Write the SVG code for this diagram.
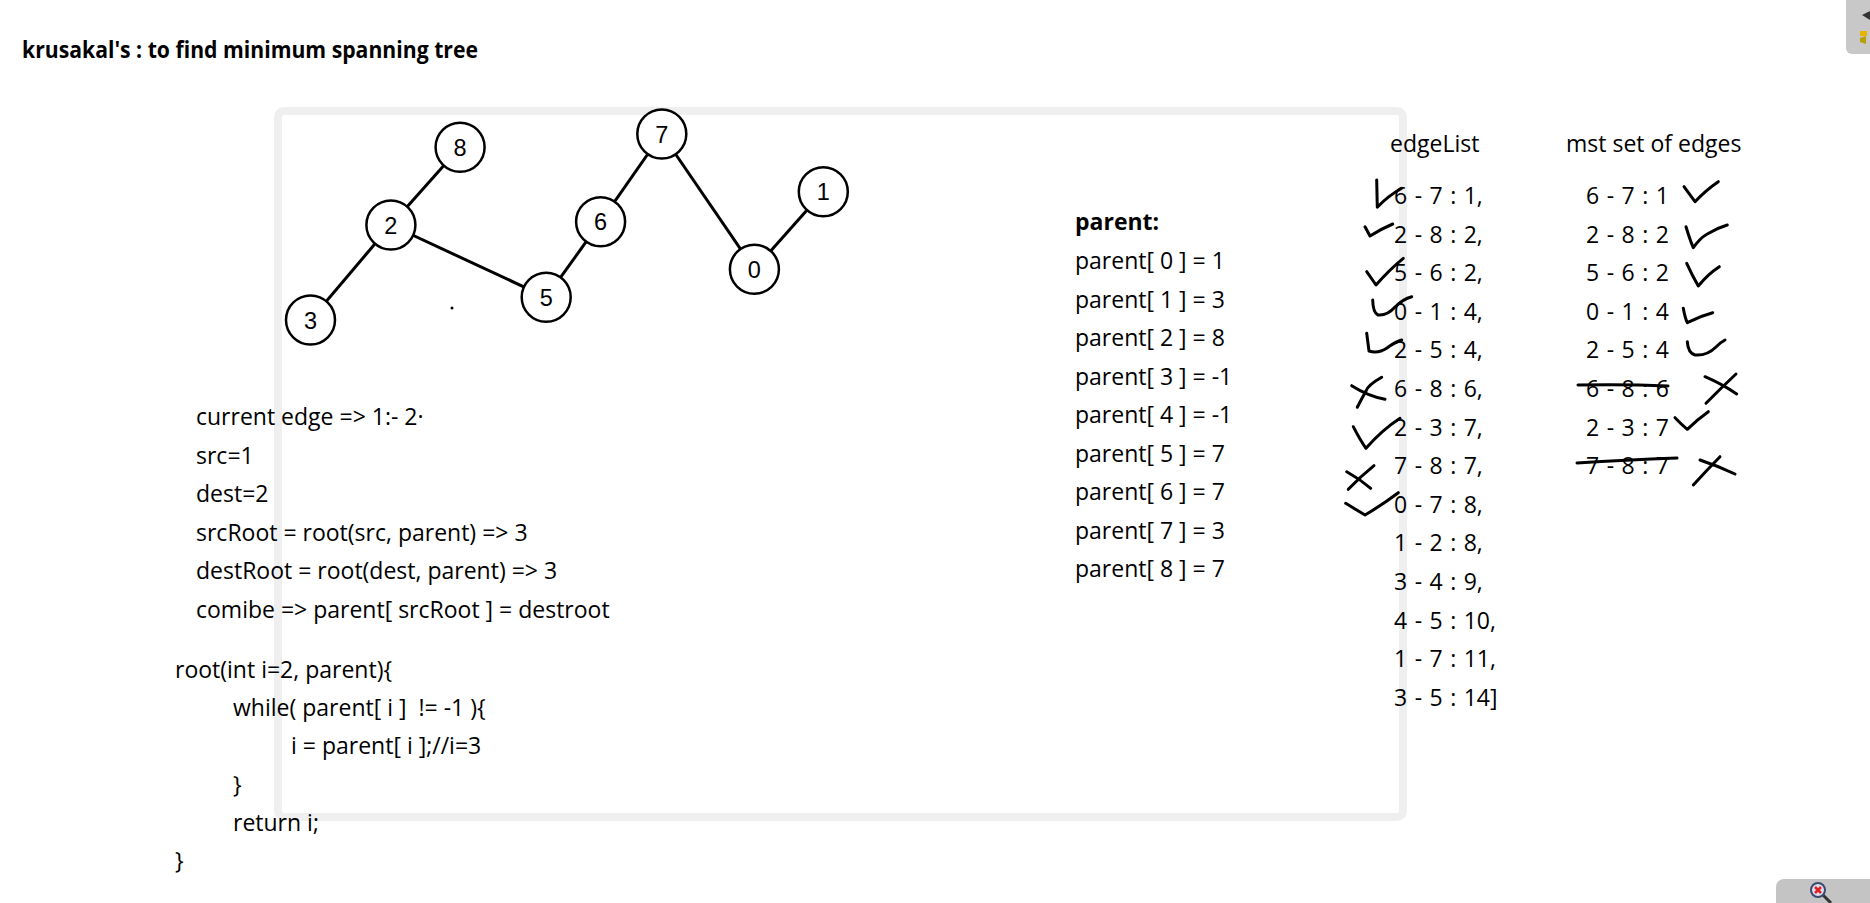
<svg xmlns="http://www.w3.org/2000/svg" width="1870" height="903" viewBox="0 0 1870 903">
<style>
.t{font-family:"Open Sans","Liberation Sans",sans-serif;font-size:23px;fill:#000}
.b{font-weight:bold}
.w{word-spacing:1.5px}
.n{font-family:"Liberation Sans",Arial,sans-serif;font-size:23.5px;fill:#000;text-anchor:middle}
.nc{fill:#fff;stroke:#000;stroke-width:2.5}
.e{stroke:#000;stroke-width:3;fill:none}
.m{stroke:#000;stroke-width:3;fill:none;stroke-linecap:round;stroke-linejoin:round}
</style>
<rect width="1870" height="903" fill="#fff"/>
<rect x="278" y="111" width="1125" height="706" rx="6" fill="none" stroke="#efefef" stroke-width="8"/>
<text class="t b" x="22" y="58" font-size="24" textLength="456" lengthAdjust="spacingAndGlyphs">krusakal's : to find minimum spanning tree</text>

<g id="connectors">
<line class="e" x1="460.1" y1="147.3" x2="390.9" y2="225"/>
<line class="e" x1="390.9" y1="225" x2="310.5" y2="320"/>
<line class="e" x1="390.9" y1="225" x2="546.2" y2="297.3"/>
<line class="e" x1="546.2" y1="297.3" x2="600.6" y2="221.7"/>
<line class="e" x1="600.6" y1="221.7" x2="661.8" y2="134"/>
<line class="e" x1="661.8" y1="134" x2="754.4" y2="269.3"/>
<line class="e" x1="754.4" y1="269.3" x2="823.3" y2="191.7"/>
</g>
<g id="node-8"><circle class="nc" cx="460.1" cy="147.3" r="24.5"/><text class="n" x="460.1" y="155.8">8</text></g>
<g id="node-2"><circle class="nc" cx="390.9" cy="225" r="24.5"/><text class="n" x="390.9" y="233.5">2</text></g>
<g id="node-3"><circle class="nc" cx="310.5" cy="320" r="24.5"/><text class="n" x="310.5" y="328.5">3</text></g>
<g id="node-5"><circle class="nc" cx="546.2" cy="297.3" r="24.5"/><text class="n" x="546.2" y="305.8">5</text></g>
<g id="node-6"><circle class="nc" cx="600.6" cy="221.7" r="24.5"/><text class="n" x="600.6" y="230.2">6</text></g>
<g id="node-7"><circle class="nc" cx="661.8" cy="134" r="24.5"/><text class="n" x="661.8" y="142.5">7</text></g>
<g id="node-0"><circle class="nc" cx="754.4" cy="269.3" r="24.5"/><text class="n" x="754.4" y="277.8">0</text></g>
<g id="node-1"><circle class="nc" cx="823.3" cy="191.7" r="24.5"/><text class="n" x="823.3" y="200.2">1</text></g>
<circle cx="452" cy="308" r="1.5" fill="#000"/>

<g id="steps">
<text class="t" x="196" y="425">current edge =&gt; 1:- 2·</text>
<text class="t" x="196" y="463.5">src=1</text>
<text class="t" x="196" y="502">dest=2</text>
<text class="t" x="196" y="540.5">srcRoot = root(src, parent) =&gt; 3</text>
<text class="t" x="196" y="579">destRoot = root(dest, parent) =&gt; 3</text>
<text class="t" x="196" y="617.5">comibe =&gt; parent[ srcRoot ] = destroot</text>
</g>
<g id="code">
<text class="t" x="175" y="678">root(int i=2, parent){</text>
<text class="t" x="233" y="716" xml:space="preserve">while( parent[ i ]  != -1 ){</text>
<text class="t" x="291" y="754">i = parent[ i ];//i=3</text>
<text class="t" x="233" y="793">}</text>
<text class="t" x="233" y="831">return i;</text>
<text class="t" x="175" y="869">}</text>
</g>
<g id="parent">
<text class="t b" x="1075" y="230">parent:</text>
<text class="t" x="1075" y="269">parent[ 0 ] = 1</text>
<text class="t" x="1075" y="307.5">parent[ 1 ] = 3</text>
<text class="t" x="1075" y="346">parent[ 2 ] = 8</text>
<text class="t" x="1075" y="384.5">parent[ 3 ] = -1</text>
<text class="t" x="1075" y="423">parent[ 4 ] = -1</text>
<text class="t" x="1075" y="461.5">parent[ 5 ] = 7</text>
<text class="t" x="1075" y="500">parent[ 6 ] = 7</text>
<text class="t" x="1075" y="538.5">parent[ 7 ] = 3</text>
<text class="t" x="1075" y="577">parent[ 8 ] = 7</text>
</g>
<g id="edgelist">
<text class="t" x="1390" y="152">edgeList</text>
<text class="t w" x="1394" y="204">6 - 7 : 1,</text>
<text class="t w" x="1394" y="242.6">2 - 8 : 2,</text>
<text class="t w" x="1394" y="281.2">5 - 6 : 2,</text>
<text class="t w" x="1394" y="319.8">0 - 1 : 4,</text>
<text class="t w" x="1394" y="358.4">2 - 5 : 4,</text>
<text class="t w" x="1394" y="397">6 - 8 : 6,</text>
<text class="t w" x="1394" y="435.6">2 - 3 : 7,</text>
<text class="t w" x="1394" y="474.2">7 - 8 : 7,</text>
<text class="t w" x="1394" y="512.8">0 - 7 : 8,</text>
<text class="t w" x="1394" y="551.4">1 - 2 : 8,</text>
<text class="t w" x="1394" y="590">3 - 4 : 9,</text>
<text class="t w" x="1394" y="628.6">4 - 5 : 10,</text>
<text class="t w" x="1394" y="667.2">1 - 7 : 11,</text>
<text class="t w" x="1394" y="705.8">3 - 5 : 14]</text>
</g>
<g id="mst">
<text class="t" x="1566" y="152">mst set of edges</text>
<text class="t w" x="1586" y="204">6 - 7 : 1</text>
<text class="t w" x="1586" y="242.6">2 - 8 : 2</text>
<text class="t w" x="1586" y="281.2">5 - 6 : 2</text>
<text class="t w" x="1586" y="319.8">0 - 1 : 4</text>
<text class="t w" x="1586" y="358.4">2 - 5 : 4</text>
<text class="t w" x="1586" y="397">6 - 8 : 6</text>
<text class="t w" x="1586" y="435.6">2 - 3 : 7</text>
<text class="t w" x="1586" y="474.2">7 - 8 : 7</text>
<path class="m" d="M1578 385 Q1625 384 1668 386"/>
<path class="m" d="M1577 463 Q1625 460 1677 458"/>
</g>
<g id="marks">
<path class="m" d="M1376.7 180 L1377.3 207.3 Q1388 196 1401.7 188.3"/>
<path class="m" d="M1365 226.7 L1370 236 Q1381 229 1392.7 224"/>
<path class="m" d="M1366.7 271.7 L1376 285 Q1389 270 1403.3 258.3"/>
<path class="m" d="M1372.7 300 Q1373 313 1378 315 Q1387 316 1395 307 Q1403 299 1411.7 296.7"/>
<path class="m" d="M1366.7 333.3 L1369 351 Q1378 354 1387 348 Q1395 342 1401.7 340"/>
<path class="m" d="M1351.7 385.7 Q1368 396 1385 399.3 M1381.7 377.3 Q1368 385 1366 391 Q1361 400 1357.3 407.3"/>
<path class="m" d="M1353.3 426.7 Q1360 440 1366 448.3 Q1382 430 1400 418.3"/>
<path class="m" d="M1346.7 471.7 Q1360 479 1370.7 488.3 M1374 465.7 Q1360 477 1348.3 489.3"/>
<path class="m" d="M1345.7 503.3 Q1355 509 1365 515 Q1382 505 1398.3 492.7"/>
<path class="m" d="M1684 186.7 L1695 201.7 Q1706 190 1718.3 181.7"/>
<path class="m" d="M1686 226.7 Q1690 240 1693.3 247.7 Q1700 238 1707.3 234 Q1717 228 1727.3 225"/>
<path class="m" d="M1686.7 263.3 Q1692 275 1698.3 286 Q1708 274 1719.3 266.7"/>
<path class="m" d="M1683.3 308.3 Q1685 318 1687.3 322.7 Q1700 316 1712.7 312.7"/>
<path class="m" d="M1687.3 341.7 Q1688 353 1695 355 Q1707 356 1716 347 Q1721 342 1725 340"/>
<path class="m" d="M1705 376.7 Q1722 384 1736.7 394 M1736 374 Q1720 389 1706 403.3"/>
<path class="m" d="M1675 417.7 Q1681 424 1687.3 429.3 Q1698 419 1708.3 411.7"/>
<path class="m" d="M1700 460 Q1718 466 1735 474 M1720 456.7 Q1706 471 1693.3 485"/>
</g>
<g id="ui">
<rect x="1846" y="-8" width="40" height="62" rx="6" fill="#c8c8c8"/>
<path d="M1862 15 L1870 11 L1870 20 Z" fill="#333"/>
<rect x="1860" y="31" width="7" height="5" fill="#e8b400"/>
<path d="M1860 38 L1866 36 L1866 44 L1860 42 Z" fill="#b8a000"/>
<rect x="1776" y="879" width="110" height="40" rx="8" fill="#c4c4c4"/>
<line x1="1823" y1="895" x2="1831" y2="903" stroke="#333" stroke-width="3"/>
<circle cx="1818" cy="890" r="7" fill="#dde" stroke="#3a4a6e" stroke-width="2"/>
<path d="M1815 887 L1821 893 M1821 887 L1815 893" stroke="#e02020" stroke-width="2.5"/>
</g>
</svg>
